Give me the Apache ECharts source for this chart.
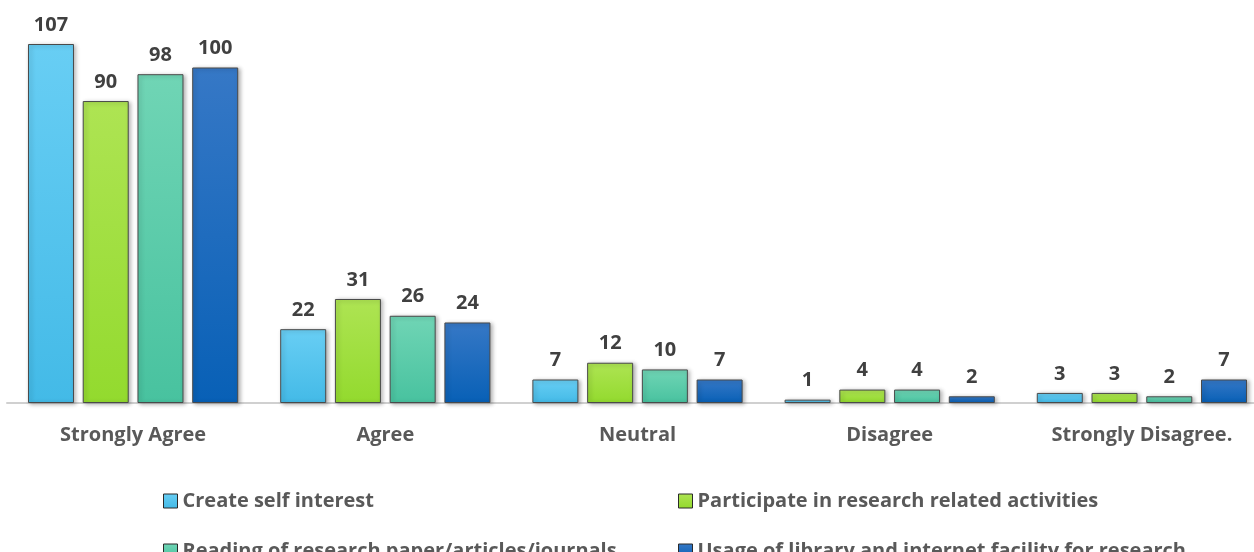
<!DOCTYPE html>
<html>
<head>
<meta charset="utf-8">
<script src="https://cdn.jsdelivr.net/npm/echarts@6/dist/echarts.min.js"></script>
<style>
  html, body { margin: 0; padding: 0; background: #fff; }
  #main { width: 1254px; height: 552px; }
</style>
</head>
<body>
<div id="main"></div>
<script>
const categories = ['Strongly Agree', 'Agree', 'Neutral', 'Disagree', 'Strongly Disagree.'];
const seriesNames = [
  'Create self interest',
  'Participate in research related activities',
  'Reading of research paper/articles/journals',
  'Usage of library and internet facility for research'
];
const selfInterest = [107, 22, 7, 1, 3];
const participate = [90, 31, 12, 4, 3];
const reading = [98, 26, 10, 4, 2];
const libraryUsage = [100, 24, 7, 2, 7];

const chart = echarts.init(document.getElementById('main'));

// light top -> darker bottom, like the original 3D-ish bars
const colors = [
  ['#68cef4', '#43bae7'],
  ['#aee453', '#93da2e'],
  ['#70d5b5', '#48c29f'],
  ['#3678c6', '#0860b6']
];
const font = '"Open Sans", sans-serif';

function grad(c) {
  return new echarts.graphic.LinearGradient(0, 0, 0, 1, [
    { offset: 0, color: c[0] },
    { offset: 1, color: c[1] }
  ]);
}

const allData = [selfInterest, participate, reading, libraryUsage];

const series = allData.map((d, i) => ({
  name: seriesNames[i],
  type: 'bar',
  data: d,
  barWidth: 46,
  barGap: '19%',
  itemStyle: {
    color: grad(colors[i]),
    borderColor: '#4a4a4a',
    borderWidth: 1,
    shadowBlur: 4,
    shadowOffsetX: 2,
    shadowOffsetY: 1,
    shadowColor: 'rgba(0,0,0,0.3)'
  },
  label: {
    show: true,
    position: 'top',
    distance: 9,
    fontFamily: font,
    fontWeight: 'bold',
    fontSize: 20,
    color: '#404040'
  }
}));

// one legend per item so the 2x2 layout can't wrap;
// the second row is cut by the bottom edge in the original
const legendPos = [[158, 486], [673, 486], [158, 536], [673, 536]];
const legends = seriesNames.map((name, i) => ({
  left: legendPos[i][0],
  top: legendPos[i][1],
  data: [name],
  itemWidth: 14,
  itemHeight: 14,
  icon: 'rect',
  textStyle: {
    fontFamily: font, fontWeight: 'bold', fontSize: 20, lineHeight: 20,
    color: '#595959'
  },
  itemStyle: { borderColor: '#2a2a2a', borderWidth: 1, shadowBlur: 0 }
}));

chart.setOption({
  backgroundColor: '#fff',
  animation: false,
  grid: { left: 7, top: 44, width: 1261, height: 359, outerBoundsMode: 'none' },
  legend: legends,
  xAxis: {
    type: 'category',
    data: categories,
    axisTick: { show: false },
    axisLine: { lineStyle: { color: '#d0d0d0', width: 2 } },
    axisLabel: {
      margin: 22,
      fontFamily: font,
      fontWeight: 'bold',
      fontSize: 20,
      color: '#595959'
    }
  },
  yAxis: {
    type: 'value',
    min: 0,
    max: 107,
    show: false,
    splitLine: { show: false }
  },
  series: series
});
</script>
</body>
</html>
